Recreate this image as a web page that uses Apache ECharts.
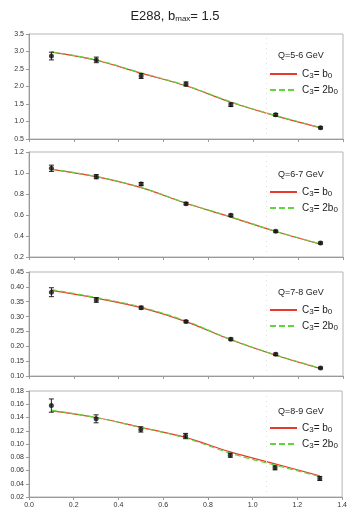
<!DOCTYPE html>
<html>
<head>
<meta charset="utf-8">
<script src="https://cdn.jsdelivr.net/npm/echarts@6/dist/echarts.min.js"></script>
<style>
  html, body { margin: 0; padding: 0; background: #fff; }
  #chart { width: 350px; height: 513px; }
</style>
</head>
<body>
<div id="chart"></div>
<script>
// x positions of the measurements (qT)
var xs = [0.1, 0.3, 0.5, 0.7, 0.9, 1.1, 1.3];

var qLabels = ['Q=5-6 GeV', 'Q=6-7 GeV', 'Q=7-8 GeV', 'Q=8-9 GeV'];

// data points and errors per panel
var data1 = [2.87, 2.76, 2.30, 2.07, 1.48, 1.19, 0.82];
var err1 = [0.11, 0.08, 0.07, 0.06, 0.05, 0.04, 0.03];
var data2 = [1.045, 0.965, 0.895, 0.708, 0.597, 0.445, 0.333];
var err2 = [0.03, 0.02, 0.015, 0.012, 0.012, 0.01, 0.01];
var data3 = [0.382, 0.356, 0.330, 0.283, 0.224, 0.173, 0.127];
var err3 = [0.015, 0.008, 0.005, 0.004, 0.004, 0.004, 0.003];
var data4 = [0.158, 0.138, 0.122, 0.112, 0.083, 0.064, 0.048];
var err4 = [0.010, 0.006, 0.004, 0.004, 0.003, 0.003, 0.003];

// theory curves, C3 = b0 (red) and C3 = 2b0 (green)
var red1 = [2.98, 2.75, 2.38, 2.02, 1.55, 1.16, 0.82];
var green1 = [2.99, 2.76, 2.39, 2.03, 1.56, 1.17, 0.83];
var red2 = [1.035, 0.965, 0.86, 0.712, 0.58, 0.443, 0.322];
var green2 = [1.037, 0.967, 0.862, 0.714, 0.582, 0.445, 0.324];
var red3 = [0.388, 0.362, 0.330, 0.283, 0.222, 0.170, 0.125];
var green3 = [0.391, 0.364, 0.332, 0.285, 0.223, 0.171, 0.126];
var red4 = [0.150, 0.140, 0.125, 0.110, 0.088, 0.070, 0.052];
var green4 = [0.151, 0.140, 0.125, 0.109, 0.086, 0.068, 0.051];

var yRanges = [
    { min: 0.5, max: 3.5, interval: 0.5, dec: 1 },
    { min: 0.2, max: 1.2, interval: 0.2, dec: 1 },
    { min: 0.10, max: 0.45, interval: 0.05, dec: 2 },
    { min: 0.02, max: 0.18, interval: 0.02, dec: 2 },
];

var panels = [
    { pts: data1, err: err1, red: red1, green: green1, top: 34, height: 105, legTop: 64, qTop: 46 },
    { pts: data2, err: err2, red: red2, green: green2, top: 152, height: 105, legTop: 182, qTop: 165 },
    { pts: data3, err: err3, red: red3, green: green3, top: 272, height: 104, legTop: 300, qTop: 283 },
    { pts: data4, err: err4, red: red4, green: green4, top: 391, height: 106, legTop: 418, qTop: 402 },
];

var RED = '#e8392c';
var GREEN = '#62d43c';
var AXIS = '#9a9a9a';

function pairs(ys) {
    return xs.map(function (x, i) { return [x, ys[i]]; });
}

var grids = [], xAxes = [], yAxes = [], series = [], legends = [], titles = [];

panels.forEach(function (p, k) {
    grids.push({ left: 29, right: 7, top: p.top, height: p.height, show: true, borderColor: '#b5b5b5', borderWidth: 1 });
    xAxes.push({
        type: 'value', gridIndex: k, min: 0, max: 1.4, interval: 0.2,
        axisLine: { show: true, lineStyle: { color: AXIS } },
        axisTick: { show: true, length: 3, lineStyle: { color: AXIS } },
        axisLabel: { show: k === 3, fontSize: 7, color: '#333', fontFamily: 'Liberation Sans', margin: 5,
            formatter: function (v) { return v.toFixed(1); } },
        splitLine: { show: false },
    });
    var yr = yRanges[k];
    yAxes.push({
        type: 'value', gridIndex: k, min: yr.min, max: yr.max, interval: yr.interval,
        axisLine: { show: true, lineStyle: { color: AXIS } },
        axisTick: { show: true, length: 3, lineStyle: { color: AXIS } },
        axisLabel: { fontSize: 7, color: '#333', fontFamily: 'Liberation Sans', margin: 5,
            formatter: function (v) { return v.toFixed(yr.dec); } },
        splitLine: { show: false },
    });

    var nRed = 'p' + k + 'red', nGreen = 'p' + k + 'green';
    series.push({
        name: nRed, type: 'line', xAxisIndex: k, yAxisIndex: k, data: pairs(p.red),
        smooth: 0.35, symbol: 'none', lineStyle: { color: RED, width: 1.2 }, itemStyle: { color: RED }, z: 3,
        markLine: {
            silent: true, symbol: 'none', label: { show: false },
            lineStyle: { color: '#dedede', type: [1, 4], width: 1 },
            data: [{ xAxis: 1.06 }],
        },
    });
    series.push({
        name: nGreen, type: 'line', xAxisIndex: k, yAxisIndex: k, data: pairs(p.green),
        smooth: 0.35, symbol: 'none', lineStyle: { color: GREEN, width: 1.2, type: [6, 3] }, itemStyle: { color: GREEN }, z: 4,
    });
    series.push({
        type: 'custom', xAxisIndex: k, yAxisIndex: k, z: 5,
        data: xs.map(function (x, i) { return [x, p.pts[i], p.pts[i] - p.err[i], p.pts[i] + p.err[i]]; }),
        renderItem: function (params, api) {
            var x = api.value(0);
            var lo = api.coord([x, api.value(2)]);
            var hi = api.coord([x, api.value(3)]);
            var st = { stroke: '#222', lineWidth: 1 };
            return {
                type: 'group',
                children: [
                    { type: 'line', shape: { x1: lo[0], y1: lo[1], x2: hi[0], y2: hi[1] }, style: st },
                    { type: 'line', shape: { x1: lo[0] - 2.5, y1: lo[1], x2: lo[0] + 2.5, y2: lo[1] }, style: st },
                    { type: 'line', shape: { x1: hi[0] - 2.5, y1: hi[1], x2: hi[0] + 2.5, y2: hi[1] }, style: st },
                ],
            };
        },
    });
    series.push({
        type: 'scatter', xAxisIndex: k, yAxisIndex: k, data: pairs(p.pts),
        symbol: 'circle', symbolSize: 5, itemStyle: { color: '#111' }, z: 6,
    });

    legends.push({
        data: [nRed, nGreen], orient: 'vertical', left: 264, top: p.legTop,
        itemWidth: 27, itemHeight: 8, itemGap: 5, selectedMode: false,
        itemStyle: { opacity: 0 },
        formatter: function (name) {
            return name === nRed ? '{n|C}{s|3}{n|= b}{s|0}' : '{n|C}{s|3}{n|= 2b}{s|0}';
        },
        textStyle: {
            rich: {
                n: { fontSize: 10, color: '#222', fontFamily: 'Liberation Sans' },
                s: { fontSize: 8, color: '#222', fontFamily: 'Liberation Sans', padding: [4, 0, 0, 0] },
            },
        },
    });
    titles.push({
        text: qLabels[k], left: 273, top: p.qTop,
        textStyle: { fontSize: 9, fontWeight: 'normal', color: '#222', fontFamily: 'Liberation Sans' },
    });
});

titles.unshift({
    text: '{n|E288, b}{s|max}{n|= 1.5}', left: 'center', top: 4,
    textStyle: {
        fontWeight: 'normal',
        rich: {
            n: { fontSize: 13, color: '#222', fontWeight: 'normal', fontFamily: 'Liberation Sans' },
            s: { fontSize: 8, color: '#222', fontWeight: 'normal', fontFamily: 'Liberation Sans', padding: [6, 0, 0, 0] },
        },
    },
});

var chart = echarts.init(document.getElementById('chart'));
chart.setOption({
    animation: false,
    backgroundColor: '#fff',
    title: titles,
    legend: legends,
    grid: grids,
    xAxis: xAxes,
    yAxis: yAxes,
    series: series,
});
</script>
</body>
</html>
